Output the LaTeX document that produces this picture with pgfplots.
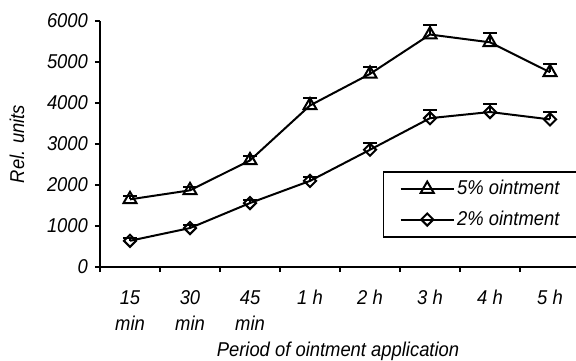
\documentclass[border=0pt]{standalone}
\usepackage{pgfplots}
\pgfplotsset{compat=1.18}
\usepackage{fontspec}
\setmainfont{Liberation Sans}[FakeStretch=0.92]
\newcommand{\cf}{\fontsize{10bp}{13.3bp}\selectfont\itshape}
\begin{document}
\cf
\begin{tikzpicture}[font=\cf]
\path[use as bounding box] (-50bp,-47bp) rectangle (238bp,133.5bp);
\begin{axis}[
  at={(0,0)}, anchor=south west,
  scale only axis, width=238bp, height=123bp,
  xmin=-0.5, xmax=7.433, ymin=0, ymax=6000,
  clip=false,
  axis x line=bottom, axis y line=left,
  axis line style={-, line width=0.75bp},
  tick align=outside,
  major tick length=2.5bp, minor tick length=2.5bp,
  every tick/.style={black, line width=0.75bp},
  xtick={0,...,7},
  xticklabels={15\\min,30\\min,45\\min,1 h,2 h,3 h,4 h,5 h},
  minor xtick={-0.5,0.5,...,6.5},
  xtick style={draw=none},
  minor x tick style={draw=black, line width=0.75bp},
  ytick={0,1000,...,6000},
  scaled y ticks=false,
  yticklabel={\pgfmathprintnumber[assume math mode=true, 1000 sep={}]{\tick}},
  tick label style={font=\cf},
  label style={font=\cf},
  xticklabel style={align=center, anchor=north, inner sep=0pt, yshift=-9bp},
  yticklabel style={anchor=east},
  ylabel={Rel. units},
  xlabel={Period of ointment application},
  every axis y label/.style={at={(axis description cs:-0.1744,0.5)}, rotate=90, anchor=center, font=\cf},
  every axis x label/.style={at={(axis description cs:0.5,0)}, anchor=base, yshift=-44.5bp, font=\cf},
  legend style={at={(rel axis cs:0.5945,0.390)}, anchor=north west, draw=black, line width=0.75bp,
    inner xsep=8bp, inner ysep=3bp, row sep=4bp, font=\cf,
    nodes={inner sep=1.25bp}},
  legend cell align=left,
  legend image code/.code={
    \draw[#1] (0bp,0bp) -- (26.5bp,0bp);
    \draw[#1,only marks] plot coordinates {(13.25bp,0bp)};
  },
]
\addplot[black, line width=1bp, mark=triangle, mark size=3.75bp, mark options={fill=white, solid},
  error bars/.cd, y dir=plus, y explicit,
  error bar style={line width=1bp},
  error mark options={rotate=90, mark size=3.5bp, line width=1bp}]
  table[x=x, y=y, y error=e] {
x y e
0 1650 70
1 1870 80
2 2600 100
3 3940 180
4 4710 160
5 5670 230
6 5480 220
7 4750 190
};
\addlegendentry{5\% ointment}
\addplot[black, line width=1bp, mark=square, mark size=2.15bp, mark options={fill=white, solid, rotate=45},
  error bars/.cd, y dir=plus, y explicit,
  error bar style={line width=1bp},
  error mark options={rotate=90, mark size=3.5bp, line width=1bp}]
  table[x=x, y=y, y error=e] {
x y e
0 640 60
1 950 70
2 1560 80
3 2100 90
4 2860 160
5 3630 200
6 3780 190
7 3600 180
};
\addlegendentry{2\% ointment}
\end{axis}
\end{tikzpicture}
\end{document}
